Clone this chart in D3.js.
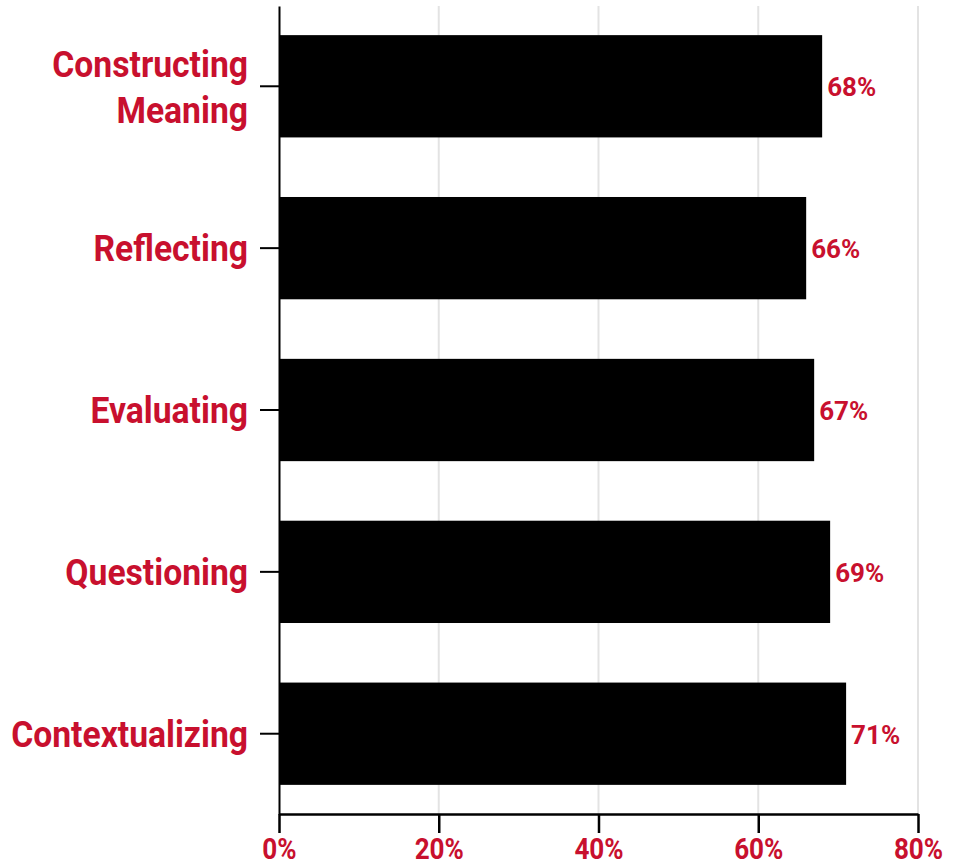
<!DOCTYPE html>
<html>
<head>
<meta charset="utf-8">
<script src="https://cdn.jsdelivr.net/npm/d3@7"></script>
<style>
  body { margin: 0; background: #fff; }
  text { font-family: Roboto, "Noto Sans", sans-serif; font-weight: 700; }
</style>
</head>
<body>
<div id="chart"></div>
<script>
// Chart data
const categories = ["Constructing Meaning", "Reflecting", "Evaluating", "Questioning", "Contextualizing"];
const values = [68, 66, 67, 69, 71];
const xTicks = [0, 20, 40, 60, 80];

const red = "#c8102e";
const squeeze = 0.91; // fake a condensed face

const width = 960, height = 867;
const margin = {top: 6, right: 42, bottom: 53, left: 279};

const svg = d3.select("#chart")
    .append("svg")
    .attr("width", width)
    .attr("height", height);

const g = svg.append("g")
    .attr("transform", `translate(${margin.left},${margin.top})`);

const innerW = width - margin.left - margin.right;
const innerH = height - margin.top - margin.bottom;

const x = d3.scaleLinear().domain([0, 80]).range([0, innerW]);
const y = d3.scaleBand().domain(categories).range([0, innerH])
    .paddingInner(0.368).paddingOuter(0.18);

// gridlines
g.append("g")
    .selectAll("line")
    .data(xTicks.slice(1))
    .join("line")
    .attr("x1", d => x(d)).attr("x2", d => x(d))
    .attr("y1", 0).attr("y2", innerH)
    .attr("stroke", "#e3e3e3")
    .attr("stroke-width", 2);

// bars
g.selectAll(".bar")
    .data(categories)
    .join("rect")
    .attr("class", "bar")
    .attr("x", 0)
    .attr("y", d => y(d))
    .attr("width", (d, i) => x(values[i]))
    .attr("height", y.bandwidth())
    .attr("fill", "#000");

// value labels
g.selectAll(".val")
    .data(categories)
    .join("text")
    .attr("class", "val")
    .attr("x", (d, i) => x(values[i]) + 5)
    .attr("y", d => y(d) + y.bandwidth() / 2)
    .attr("dy", "0.38em")
    .attr("fill", red)
    .style("font-size", "26px")
    .text((d, i) => values[i] + "%");

// x axis
const xAxis = g.append("g")
    .attr("transform", `translate(0,${innerH})`)
    .call(d3.axisBottom(x).tickValues(xTicks).tickFormat(d => d + "%").tickSize(19).tickSizeOuter(0));

xAxis.select(".domain").attr("stroke", "#000").attr("stroke-width", 2.5);
xAxis.selectAll(".tick line").attr("stroke", "#000").attr("stroke-width", 2.5);
xAxis.selectAll(".tick text")
    .attr("y", 0).attr("dy", 0)
    .attr("transform", `translate(0,45) scale(0.87,1)`)
    .attr("fill", red)
    .style("font-size", "30px");

// y axis
const yAxis = g.append("g")
    .call(d3.axisLeft(y).tickSize(19).tickSizeOuter(0));

yAxis.select(".domain").attr("stroke", "#000").attr("stroke-width", 2);
yAxis.selectAll(".tick line").attr("stroke", "#000").attr("stroke-width", 2);
yAxis.selectAll(".tick text").remove();

yAxis.selectAll(".tick").each(function(d) {
    const words = d === "Constructing Meaning" ? ["Constructing", "Meaning"] : [d];
    const t = d3.select(this).append("text")
        .attr("text-anchor", "end")
        .attr("fill", red)
        .style("font-size", "37px")
        .attr("transform", `translate(-31,0) scale(${squeeze},1)`);
    const lineH = 46;
    const start = -(words.length - 1) * lineH / 2;
    words.forEach((w, i) => {
        t.append("tspan")
            .attr("x", 0)
            .attr("y", start + i * lineH)
            .attr("dy", "0.36em")
            .text(w);
    });
});
</script>
</body>
</html>
